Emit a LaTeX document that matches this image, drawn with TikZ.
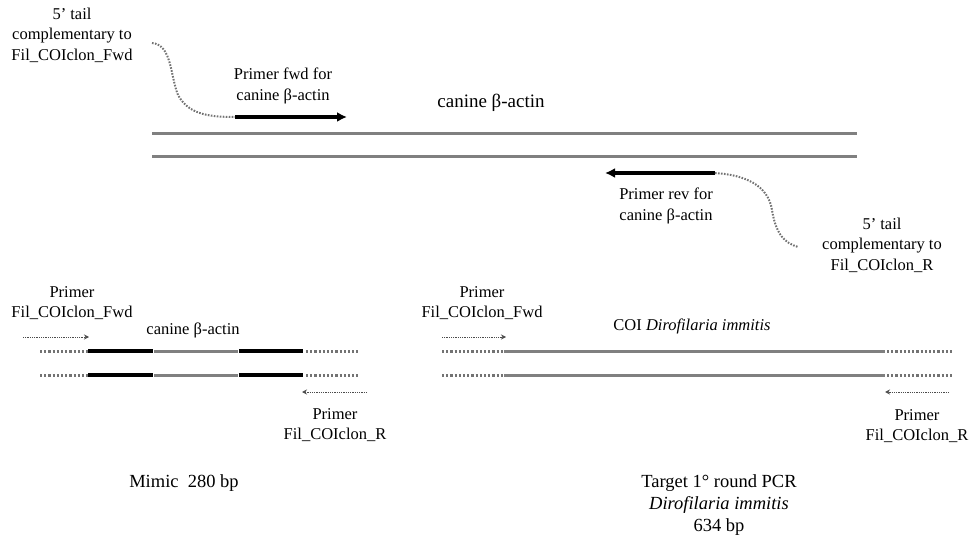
\documentclass[tikz,border=0pt]{standalone}
\usepackage{fontspec}
\setmainfont{Liberation Serif}
\usetikzlibrary{arrows.meta}
\begin{document}
\begin{tikzpicture}[x=1pt,y=-1pt,
  every node/.style={inner sep=0pt, align=center},
  lbl/.style={font=\fontsize{16.5}{20.5}\selectfont},
  big/.style={font=\fontsize{18.5}{22}\selectfont},
  strand/.style={line width=3pt, draw=black!50},
  blackseg/.style={line width=3.5pt, draw=black},
  dotext/.style={line width=3pt, draw=black!55, dash pattern=on 2.2pt off 2pt},
  tail/.style={line width=2pt, draw=black!55, dash pattern=on 1.6pt off 1.4pt},
  primarrow/.style={line width=3.5pt, -{Latex[length=10pt,width=10pt]}},
  smallarrow/.style={line width=0.9pt, draw=black!70, dash pattern=on 1pt off 0.8pt, -{Stealth[length=5pt,width=5pt]}}
]
\useasboundingbox (0,0) rectangle (971,537);

% ---------- top: canine beta-actin ----------
\node[lbl] (tailF) at (72,35) {5’ tail\\complementary to\\Fil\_COIclon\_Fwd};
\node[lbl] (pfwd) at (283,86) {Primer fwd for\\canine β-actin};
\node[font=\fontsize{19}{23}\selectfont] (actin) at (491,103) {canine β-actin};

\coordinate (s1a) at (152,134); \coordinate (s1b) at (857,134);
\coordinate (s2a) at (152,157); \coordinate (s2b) at (857,157);
\draw[strand] (s1a) -- (s1b);
\draw[strand] (s2a) -- (s2b);

\coordinate (tF0) at (152,43);
\coordinate (f1) at (235,117); \coordinate (f2) at (347,117);
\draw[tail] (tF0) .. controls (172,45) and (170,75) .. (178,95) .. controls (188,113) and (205,117) .. (f1);
\draw[primarrow] (f1) -- (f2);

\coordinate (r1) at (715,173); \coordinate (r2) at (605,173);
\coordinate (tR0) at (798,247);
\draw[primarrow] (r1) -- (r2);
\draw[tail] (r1) .. controls (745,175) and (768,185) .. (772,210) .. controls (776,235) and (785,243) .. (tR0);
\node[lbl] (prev) at (666,206) {Primer rev for\\canine β-actin};
\node[lbl] (tailR) at (882,245) {5’ tail\\complementary to\\Fil\_COIclon\_R};

% ---------- bottom left: mimic ----------
\node[lbl] (pFl) at (72,303) {Primer\\Fil\_COIclon\_Fwd};
\coordinate (aFl1) at (23,337); \coordinate (aFl2) at (89,337);
\draw[smallarrow] (aFl1) -- (aFl2);
\node[lbl] (mact) at (193,330) {canine β-actin};

\foreach \y/\n in {351/a,375/b}{
  \coordinate (m\n0) at (40,\y);
  \coordinate (m\n1) at (88,\y);
  \coordinate (m\n2) at (153,\y);
  \coordinate (m\n3) at (239,\y);
  \coordinate (m\n4) at (303,\y);
  \coordinate (m\n5) at (358,\y);
  \draw[dotext] (m\n0) -- (m\n1);
  \draw[blackseg] (m\n1) -- (m\n2);
  \draw[strand] ([xshift=1pt]m\n2) -- ([xshift=-1pt]m\n3);
  \draw[blackseg] (m\n3) -- (m\n4);
  \draw[dotext] ([xshift=3pt]m\n4) -- (m\n5);
}
\coordinate (aRl1) at (367,392); \coordinate (aRl2) at (302,392);
\draw[smallarrow] (aRl1) -- (aRl2);
\node[lbl] (pRl) at (335,425) {Primer\\Fil\_COIclon\_R};

\node[big] (mimic) at (184,483) {Mimic\ \ 280 bp};

% ---------- bottom right: target ----------
\node[lbl] (pFr) at (482,303) {Primer\\Fil\_COIclon\_Fwd};
\coordinate (aFr1) at (442,337); \coordinate (aFr2) at (506,337);
\draw[smallarrow] (aFr1) -- (aFr2);
\node[lbl] (coi) at (692,326) {COI \textit{Dirofilaria immitis}};

\foreach \y/\n in {351/a,375/b}{
  \coordinate (t\n0) at (442,\y);
  \coordinate (t\n1) at (504,\y);
  \coordinate (t\n2) at (885,\y);
  \coordinate (t\n3) at (952,\y);
  \draw[dotext] (t\n0) -- (t\n1);
  \draw[strand] (t\n1) -- (t\n2);
  \draw[dotext] ([xshift=2pt]t\n2) -- (t\n3);
}
\coordinate (aRr1) at (949,392); \coordinate (aRr2) at (885,392);
\draw[smallarrow] (aRr1) -- (aRr2);
\node[lbl] (pRr) at (917,426) {Primer\\Fil\_COIclon\_R};

\node[big] (target) at (719,505) {Target 1° round PCR\\\textit{Dirofilaria immitis}\\634 bp};
\end{tikzpicture}
\end{document}
